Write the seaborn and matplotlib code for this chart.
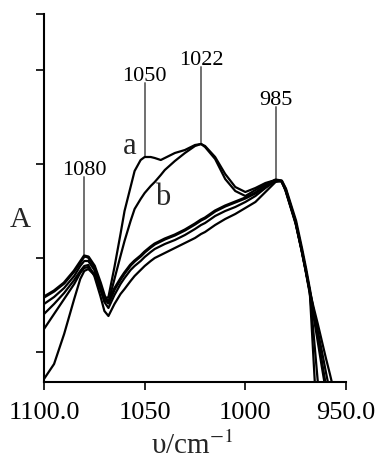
import numpy as np
import pandas as pd
import matplotlib
matplotlib.use("Agg")
import matplotlib.pyplot as plt
import seaborn as sns

# ---- data ----
wavenumber = [1100, 1095, 1090, 1085, 1082, 1080, 1078, 1075, 1072, 1070,
              1068, 1065, 1062, 1060, 1057, 1055, 1052, 1050, 1047, 1045,
              1042, 1040, 1035, 1030, 1025, 1022, 1020, 1015, 1010, 1005,
              1000, 995, 990, 985, 982, 980, 975, 972, 970, 968,
              966, 964, 962, 960, 958, 956]

curve_a = [0.006, 0.036, 0.096, 0.166, 0.206, 0.222, 0.226, 0.214, 0.186, 0.166,
           0.170, 0.230, 0.296, 0.342, 0.390, 0.422, 0.444, 0.450, 0.450, 0.448,
           0.444, 0.448, 0.458, 0.464, 0.474, 0.476, 0.472, 0.450, 0.416, 0.390,
           0.380, 0.388, 0.398, 0.404, 0.402, 0.382, 0.316, 0.262, 0.222, 0.180,
           0.036, -0.108, None, None, None, None]

curve_b = [0.106, 0.136, 0.166, 0.196, 0.218, 0.228, 0.230, 0.216, 0.186, 0.162,
           0.160, 0.206, 0.252, 0.282, 0.322, 0.346, 0.366, 0.378, 0.392, 0.400,
           0.414, 0.424, 0.442, 0.458, 0.472, 0.476, 0.470, 0.446, 0.406, 0.382,
           0.372, 0.384, 0.396, 0.404, 0.402, 0.384, 0.318, 0.264, 0.224, 0.182,
           0.092, 0.000, None, None, None, None]

curve_c = [0.170, 0.182, 0.198, 0.222, 0.240, 0.252, 0.250, 0.232, 0.198, 0.172,
           0.158, 0.186, 0.206, 0.218, 0.234, 0.242, 0.252, 0.260, 0.270, 0.276,
           0.282, 0.286, 0.294, 0.304, 0.316, 0.324, 0.328, 0.342, 0.352, 0.360,
           0.368, 0.378, 0.392, 0.404, 0.402, 0.386, 0.322, 0.266, 0.226, 0.182,
           0.134, 0.086, 0.036, -0.012, None, None]

curve_d = [0.156, 0.170, 0.188, 0.212, 0.232, 0.242, 0.242, 0.224, 0.188, 0.160,
           0.148, 0.174, 0.196, 0.208, 0.224, 0.232, 0.242, 0.250, 0.260, 0.266,
           0.272, 0.276, 0.284, 0.294, 0.306, 0.314, 0.318, 0.332, 0.342, 0.350,
           0.360, 0.372, 0.388, 0.402, 0.402, 0.386, 0.320, 0.264, 0.224, 0.182,
           0.142, 0.102, 0.062, 0.020, -0.020, None]

curve_e = [0.136, 0.156, 0.178, 0.204, 0.222, 0.232, 0.234, 0.212, 0.172, 0.142,
           0.132, 0.156, 0.176, 0.186, 0.202, 0.212, 0.224, 0.232, 0.242, 0.248,
           0.254, 0.258, 0.268, 0.278, 0.288, 0.296, 0.300, 0.314, 0.326, 0.336,
           0.348, 0.360, 0.380, 0.400, 0.402, 0.386, 0.320, 0.264, 0.224, 0.182,
           0.148, 0.116, 0.082, 0.048, 0.016, -0.018]

peak_positions = [1080, 1050, 1022, 985]
peak_labels = ["1080", "1050", "1022", "985"]
peak_line_bottom = [0.252, 0.452, 0.476, 0.404]
peak_line_top = [0.410, 0.598, 0.630, 0.550]

xtick_values = [1100, 1050, 1000, 950]
xtick_labels = ["1100.0", "1050", "1000", "950.0"]
ytick_values = [0.060, 0.248, 0.436, 0.624, 0.736]

curve_names = ["a", "b", "c", "d", "e"]
curve_values = [curve_a, curve_b, curve_c, curve_d, curve_e]

# ---- style ----
sns.set_theme(style="ticks")
plt.rcParams["font.family"] = ["Liberation Serif", "DejaVu Serif"]
plt.rcParams["mathtext.fontset"] = "stix"

fig = plt.figure(figsize=(3.79, 4.60), dpi=100)
fig.patch.set_facecolor("white")
ax = fig.add_axes([44 / 379, 77 / 460, 302 / 379, 368 / 460])
ax.set_facecolor("white")

widths = {"a": 1.6, "b": 1.6, "c": 2.3, "d": 1.6, "e": 1.6}
for name, vals in zip(curve_names, curve_values):
    df = pd.DataFrame({"wavenumber": wavenumber,
                       "A": pd.to_numeric(pd.Series(vals), errors="coerce")}).dropna()
    sns.lineplot(data=df, x="wavenumber", y="A", ax=ax, color="black",
                 lw=widths[name], sort=False, estimator=None)

# peak marker lines and labels
for xp, lab, yb, yt in zip(peak_positions, peak_labels, peak_line_bottom, peak_line_top):
    ax.plot([xp, xp], [yb, yt], color="#707070", lw=1.4, zorder=1)
    ax.text(xp, yt + 0.006, lab, ha="center", va="baseline", fontsize=16,
            color="black")

ax.text(1057.3, 0.472, "a", ha="center", va="center", fontsize=22)
ax.text(1040.9, 0.370, "b", ha="center", va="center", fontsize=22)

ax.set_xlim(1100, 950)
ax.set_ylim(0, 0.736)
ax.set_xticks(xtick_values)
ax.set_xticklabels(xtick_labels, fontsize=19)
ax.set_yticks(ytick_values)
ax.set_yticklabels([])
ax.tick_params(axis="x", direction="out", length=5.5, width=1.2, pad=8, colors="black")
ax.tick_params(axis="y", direction="out", length=6, width=1.2, colors="black")
for s in ["top", "right"]:
    ax.spines[s].set_visible(False)
for s in ["left", "bottom"]:
    ax.spines[s].set_linewidth(1.5)
    ax.spines[s].set_color("black")

ax.set_xlabel("υ/cm$^{-1}$", fontsize=21)
ax.xaxis.label.set_va("baseline")
ax.xaxis.set_label_coords(0.49, -0.193)
ax.set_ylabel("A", fontsize=21, rotation=0)
ax.yaxis.label.set_va("center")
ax.yaxis.label.set_ha("center")
ax.yaxis.set_label_coords(-0.079, 0.443)

fig.savefig("out.png", dpi=100, facecolor="white")
